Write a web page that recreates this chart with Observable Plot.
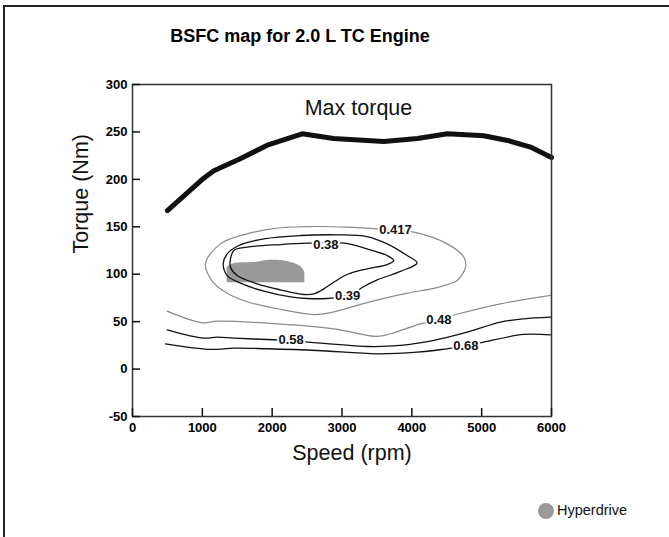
<!DOCTYPE html>
<html>
<head>
<meta charset="utf-8">
<script src="https://cdn.jsdelivr.net/npm/d3@7"></script>
<script src="https://cdn.jsdelivr.net/npm/@observablehq/plot@0.6"></script>
<style>
  html, body { margin: 0; padding: 0; background: #fff; }
  #wrap { position: relative; width: 669px; height: 537px; overflow: hidden; font-family: "Liberation Sans", Arial, sans-serif; }
  #wrap svg { position: absolute; left: 0; top: 0; }
  .bl { position: absolute; left: 3px; top: 5px; width: 2px; height: 532px; background: #222; }
  .bt { position: absolute; left: 3px; top: 5px; width: 666px; height: 2px; background: #222; }
  #title { position: absolute; left: 0; width: 600px; top: 27px; text-align: center; font-size: 18px; line-height: 18px; font-weight: bold; color: #000; }
  #legend { position: absolute; left: 538px; top: 503px; font-size: 14.5px; line-height: 14.5px; color: #111; }
  #legend .sw { position: absolute; left: 0; top: 0; width: 16px; height: 16px; border-radius: 50%; background: #999; }
  #legend .lb { position: absolute; left: 19px; top: 0; white-space: nowrap; }
</style>
</head>
<body>
<div id="wrap">
  <div class="bl"></div>
  <div class="bt"></div>
  <div id="title">BSFC map for 2.0 L TC Engine</div>
  <div id="legend"><span class="sw"></span><span class="lb">Hyperdrive</span></div>
</div>
<script>
// ---------- data ----------
const xTicks = [0, 1000, 2000, 3000, 4000, 5000, 6000];
const yTicks = [-50, 0, 50, 100, 150, 200, 250, 300];
const speedDomain = [0, 6000];
const torqueDomain = [-50, 300];

const maxTorqueSpeed = [500, 1000, 1165, 1550, 1930, 2430, 2880, 3600, 4080, 4510, 5030, 5370, 5700, 6000];
const maxTorqueValue = [167, 200, 209, 222, 236, 248, 243, 240, 243, 248, 246, 241, 234, 223];

const bsfc038Speed = [1403, 1451, 1642, 2119, 2501, 3026, 3360, 3647, 3742, 3647, 3360, 3074, 2883, 2740, 2597, 2453, 2119, 1785, 1499, 1403];
const bsfc038Torque = [116, 125, 128.5, 131.3, 132.7, 132.7, 126.7, 119.7, 114.4, 110.2, 105.7, 99.7, 91.6, 84.6, 79.3, 78.6, 83.5, 89.9, 98.6, 107.4];

const bsfc039Speed = [1298, 1356, 1523, 1881, 2406, 2931, 3360, 3647, 3933, 4076, 3838, 3504, 3289, 3170, 2978, 2787, 2501, 2262, 1881, 1547, 1356];
const bsfc039Torque = [110.9, 121.5, 130.3, 137.3, 140.8, 141.5, 139.7, 132, 119.7, 112, 103, 94, 86, 80, 75.8, 74.4, 74.4, 76.1, 82.1, 90.6, 98.6];

const bsfc0417Speed = [1045, 1260, 1642, 2119, 2597, 3074, 3504, 4029, 4506, 4745, 4769, 4650, 4506, 4315, 3934, 3360, 2836, 2600, 2119, 1642, 1356, 1150];
const bsfc0417Torque = [111, 132, 142.6, 149, 150.3, 149.6, 147.9, 144.3, 132, 118, 107.4, 93.4, 89, 85, 80, 70, 59.5, 57.5, 63, 71, 80, 92];

const bsfc048Speed = [496, 998, 1212, 1928, 2883, 3503, 3694, 3981, 4124, 4386, 4673, 5269, 5985];
const bsfc048Torque = [61.1, 48.8, 50.5, 48.4, 42.4, 34.4, 37.2, 44.2, 47.7, 52, 58.3, 68.8, 77.6];

const bsfc058Speed = [496, 1021, 1212, 1451, 2024, 2277, 2525, 3360, 3837, 4315, 4792, 5269, 5603, 5985];
const bsfc058Torque = [41.4, 32.6, 33.7, 32.6, 30.9, 30, 28.4, 23.8, 24.9, 30.2, 38.9, 49.5, 53, 54.7];

const bsfc068Speed = [472, 1117, 1451, 1928, 2644, 3503, 4076, 4506, 4768, 5031, 5603, 5985];
const bsfc068Torque = [26.6, 20.7, 22.1, 21.4, 19.6, 16.1, 17.8, 21.4, 24, 28.4, 36.5, 36.1];

const hyperdriveSpeed = [1356, 1451, 1785, 1928, 2215, 2406, 2468];
const hyperdriveTop = [107.5, 111, 112.7, 114.5, 113.5, 108.2, 102.2];
const hyperdriveBottom = [91, 91, 91, 91, 91, 91, 91];

const contourLabelText = ["0.417", "0.38", "0.39", "0.48", "0.58", "0.68"];
const contourLabelSpeed = [3766, 2770, 3080, 4387, 2272, 4774];
const contourLabelTorque = [147, 131.5, 77.5, 52, 31, 24];

const annotationText = ["Max torque"];
const annotationSpeed = [3236];
const annotationTorque = [274.6];

// ---------- build ----------
const rows = (s, t) => s.map((v, i) => ({speed: v, torque: t[i]}));
const W = 669, H = 537, mL = 132, mR = 118, mT = 84, mB = 121;
const yPerPx = (torqueDomain[1] - torqueDomain[0]) / (H - mT - mB);
const xPerPx = (speedDomain[1] - speedDomain[0]) / (W - mL - mR);
const tickLen = 8;

const blob = hyperdriveSpeed.map((s, i) => ({speed: s, top: hyperdriveTop[i], bottom: hyperdriveBottom[i]}));
const labels = contourLabelText.map((t, i) => ({text: t, speed: contourLabelSpeed[i], torque: contourLabelTorque[i]}));
const notes = annotationText.map((t, i) => ({text: t, speed: annotationSpeed[i], torque: annotationTorque[i]}));

const black = {stroke: "#111", strokeWidth: 1.3};
const gray = {stroke: "#8a8a8a", strokeWidth: 1.2};

const chart = Plot.plot({
  width: W, height: H,
  marginLeft: mL, marginRight: mR, marginTop: mT, marginBottom: mB,
  style: {fontFamily: "'Liberation Sans', Arial, sans-serif", background: "transparent", overflow: "visible"},
  x: {domain: speedDomain},
  y: {domain: torqueDomain},
  marks: [
    Plot.areaY(blob, {x: "speed", y1: "bottom", y2: "top", fill: "#999", curve: "catmull-rom"}),
    Plot.line(rows(bsfc0417Speed, bsfc0417Torque), {x: "speed", y: "torque", ...gray, curve: "catmull-rom-closed"}),
    Plot.line(rows(bsfc039Speed, bsfc039Torque), {x: "speed", y: "torque", ...black, curve: "catmull-rom-closed"}),
    Plot.line(rows(bsfc038Speed, bsfc038Torque), {x: "speed", y: "torque", ...black, curve: "catmull-rom-closed"}),
    Plot.line(rows(bsfc048Speed, bsfc048Torque), {x: "speed", y: "torque", ...gray, curve: "catmull-rom"}),
    Plot.line(rows(bsfc058Speed, bsfc058Torque), {x: "speed", y: "torque", ...black, curve: "catmull-rom"}),
    Plot.line(rows(bsfc068Speed, bsfc068Torque), {x: "speed", y: "torque", ...black, curve: "catmull-rom"}),
    Plot.line(rows(maxTorqueSpeed, maxTorqueValue), {x: "speed", y: "torque", stroke: "#111", strokeWidth: 5, strokeLinejoin: "round"}),
    Plot.text(labels, {x: "speed", y: "torque", text: "text", fontSize: 13, fontWeight: "bold", fill: "#111", stroke: "white", strokeWidth: 4, lineAnchor: "middle"}),
    Plot.text(notes, {x: "speed", y: "torque", text: "text", fontSize: 21.5, fill: "#111", lineAnchor: "middle"}),
    Plot.frame({stroke: "#333", strokeWidth: 1.5}),
    Plot.ruleX(xTicks, {x: d => d, y1: torqueDomain[0], y2: torqueDomain[0] + tickLen * yPerPx, stroke: "#111", strokeWidth: 1.5}),
    Plot.ruleY(yTicks, {y: d => d, x1: speedDomain[0], x2: speedDomain[0] + tickLen * xPerPx, stroke: "#111", strokeWidth: 1.5}),
    Plot.axisX({ticks: xTicks, tickSize: 0, tickPadding: 6, fontSize: 13, fontWeight: "bold", label: null, tickFormat: d => String(d)}),
    Plot.axisY({ticks: yTicks, tickSize: 0, tickPadding: 5, fontSize: 13, fontWeight: "bold", label: null, tickFormat: d => String(d)}),
    Plot.text(["Speed (rpm)"], {frameAnchor: "bottom", dx: 10, dy: 37, fontSize: 21.5, fill: "#111", lineAnchor: "middle"}),
    Plot.text(["Torque (Nm)"], {frameAnchor: "left", dx: -51, dy: 3, rotate: -90, fontSize: 21.5, fill: "#111", lineAnchor: "middle"})
  ]
});
document.getElementById("wrap").prepend(chart);
</script>
</body>
</html>
